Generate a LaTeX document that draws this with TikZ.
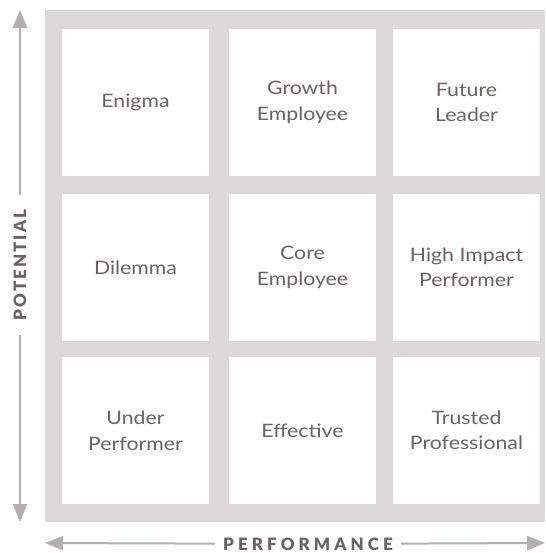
\documentclass[tikz,border=0pt]{standalone}
\usepackage{fontspec}
\setmainfont[FakeStretch=1.15]{Lato}
\newfontfamily\axisfont[LetterSpace=12, UprightFont=* Black]{Lato}
\newfontfamily\axiswidefont[LetterSpace=24, UprightFont=* Black]{Lato}
\usetikzlibrary{arrows.meta}
\definecolor{gridgrey}{HTML}{DDD9D8}
\definecolor{axisgrey}{HTML}{B4AEAC}
\definecolor{labelgrey}{HTML}{6B6362}
\begin{document}
\begin{tikzpicture}[x=1pt, y=-1pt,
    cell/.style={fill=white, minimum size=147pt, inner sep=0pt, align=center, text=labelgrey, font=\fontsize{18.5}{25.5}\selectfont},
    axislabel/.style={text=labelgrey, font=\axisfont\fontsize{17}{17}\selectfont, inner ysep=0pt},
    axisline/.style={draw=axisgrey, line width=2pt, -{Triangle[width=14pt,length=18pt]}}]
      \useasboundingbox (0,0) rectangle (545,553);
      \fill[gridgrey] (45,10) rectangle (545,522);
      % cells, top row first
      \node[cell] (enigma) at (135.5,102.5) {Enigma};
      \node[cell] (growth) at (302.5,102.5) {Growth\\Employee};
      \node[cell] (leader) at (466.5,102.5) {Future\\Leader};
      \node[cell] (dilemma) at (135.5,267.5) {Dilemma};
      \node[cell] (core) at (302.5,267.5) {Core\\Employee};
      \node[cell] (impact) at (466.5,267.5) {High Impact\\Performer};
      \node[cell] (under) at (135.5,430.5) {Under\\Performer};
      \node[cell] (effective) at (302.5,430.5) {Effective};
      \node[cell] (trusted) at (466.5,430.5) {Trusted\\Professional};
      % axes
      \coordinate (ptop) at (20,10);
      \coordinate (pbot) at (20,522);
      \node[axislabel, rotate=90, inner xsep=14pt] (potential) at (20,265) {POTENTIAL};
      \draw[axisline] (potential) -- (ptop);
      \draw[axisline] (potential) -- (pbot);
      \coordinate (pleft) at (45,543);
      \coordinate (pright) at (545,543);
      \node[axislabel, font=\axiswidefont\fontsize{17}{17}\selectfont, inner xsep=8pt] (performance) at (308,544) {PERFORMANCE};
      \draw[axisline] (performance) -- (pleft);
      \draw[axisline] (performance) -- (pright);
    \end{tikzpicture}
\end{document}
